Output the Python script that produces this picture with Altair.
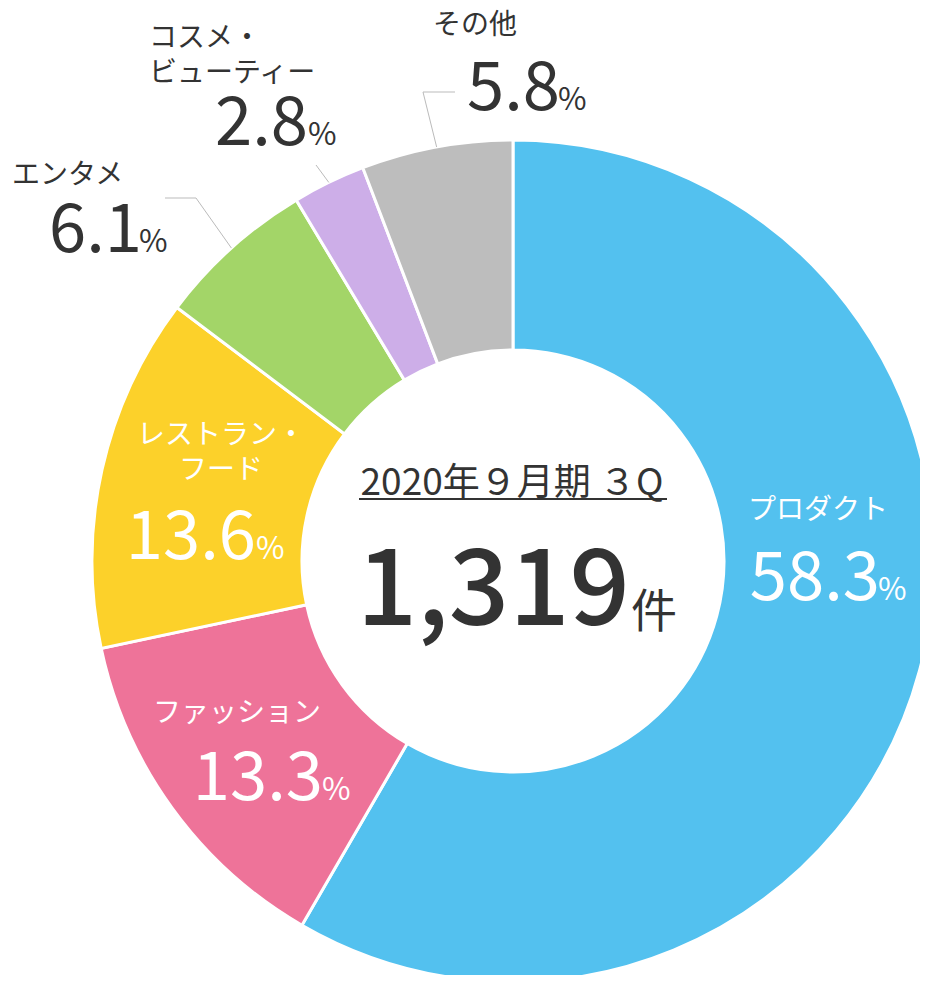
import math
import altair as alt
import pandas as pd

# ---------------- data ----------------
categories = ["プロダクト", "ファッション", "レストラン・フード", "エンタメ", "コスメ・ビューティー", "その他"]
shares = [58.3, 13.3, 13.6, 6.1, 2.8, 5.8]
slice_colors = ["#53C1EF", "#EE7399", "#FCD12A", "#A3D568", "#CDAEE8", "#BDBDBD"]
label_lines = [["プロダクト"], ["ファッション"], ["レストラン・", "フード"], ["エンタメ"],
               ["コスメ・", "ビューティー"], ["その他"]]
period_label = "2020年９月期 ３Q"
total_count = 1319
count_unit = "件"

# ---------------- layout (pixels inside the view) ----------------
W, H = 912, 967
CX, CY = 505, 553
R_OUT, R_IN = 421, 211
INK = "#333333"
FONT = "Noto Sans CJK JP"
NAME_SIZE = 28
NUM_SIZE = 67
PCT_SIZE = 31
LINE_GAP = 35

LAYOUT = {
    "プロダクト": dict(name=(810, 511), align="center", num=(872, 870, 592), ink="white"),
    "ファッション": dict(name=(229, 714), align="center", num=(315, 314, 792), ink="white"),
    "レストラン・フード": dict(name=(213, 436), align="center", num=(248, 248, 551), ink="white"),
    "エンタメ": dict(name=(4, 176), align="left", num=(134, 131, 244), ink=INK,
                  leader=[(157, 190), (188, 190)]),
    "コスメ・ビューティー": dict(name=(141, 39), align="left", num=(300, 300, 137), ink=INK,
                       leader=[(308, 157)]),
    "その他": dict(name=(425, 26), align="left", num=(552, 550, 102), ink=INK,
                leader=[(447, 84), (415, 84)]),
}

# ---------------- donut ----------------
df = pd.DataFrame({"category": categories, "share": shares, "order": list(range(len(categories)))})
donut = alt.Chart(df).mark_arc(
    innerRadius=R_IN, outerRadius=R_OUT, stroke="white", strokeWidth=3
).encode(
    theta=alt.Theta("share:Q", stack=True),
    order=alt.Order("order:Q"),
    color=alt.Color("category:N", scale=alt.Scale(domain=categories, range=slice_colors), legend=None),
    x=alt.value(CX),
    y=alt.value(CY),
)

# ---------------- leader lines (start at each slice's mid-angle on the rim) ----------------
total = sum(shares)
leader_rows = []
cum = 0.0
for cat, s in zip(categories, shares):
    mid = (cum + s / 2) / total * 2 * math.pi
    cum += s
    lay = LAYOUT[cat]
    if "leader" not in lay:
        continue
    pts = list(lay["leader"]) + [(CX + R_OUT * math.sin(mid), CY - R_OUT * math.cos(mid))]
    for i, (px, py) in enumerate(pts):
        leader_rows.append({"category": cat, "i": i, "x": px, "y": py})

leaders = alt.Chart(pd.DataFrame(leader_rows)).mark_line(color="#BBBBBB", strokeWidth=1).encode(
    x=alt.X("x:Q", scale=None, axis=None),
    y=alt.Y("y:Q", scale=None, axis=None),
    detail="category:N",
    order="i:Q",
)


def text_layer(text, x, y, size, color, align, weight="normal"):
    d = pd.DataFrame({"text": [text], "x": [x], "y": [y]})
    return alt.Chart(d).mark_text(
        font=FONT, fontSize=size, color=color, align=align, baseline="alphabetic", fontWeight=weight
    ).encode(
        x=alt.X("x:Q", scale=None, axis=None),
        y=alt.Y("y:Q", scale=None, axis=None),
        text="text:N",
    )


texts = []
for cat, s, lines in zip(categories, shares, label_lines):
    lay = LAYOUT[cat]
    nx, ny = lay["name"]
    for k, line in enumerate(lines):
        texts.append(text_layer(line, nx, ny + k * LINE_GAP, NAME_SIZE, lay["ink"], lay["align"]))
    num_right, pct_left, base = lay["num"]
    texts.append(text_layer(f"{s:.1f}", num_right, base, NUM_SIZE, lay["ink"], "right"))
    texts.append(text_layer("%", pct_left, base, PCT_SIZE, lay["ink"], "left"))

# centre text
texts.append(text_layer(period_label, 504, 487, 37, INK, "center"))
texts.append(text_layer(f"{total_count:,}", 622, 617, 106, INK, "right", 500))
texts.append(text_layer(count_unit, 623, 619, 46, INK, "left"))

underline = alt.Chart(pd.DataFrame({"x": [351], "x2": [659], "y": [491]})).mark_rule(
    color=INK, strokeWidth=2
).encode(
    x=alt.X("x:Q", scale=None, axis=None),
    x2="x2:Q",
    y=alt.Y("y:Q", scale=None, axis=None),
)

chart = alt.layer(donut, leaders, underline, *texts).properties(
    width=W, height=H, autosize=alt.AutoSizeParams(type="none"), padding=0, background="white"
).configure_view(stroke=None)

chart.save("out.html", embed_options={"renderer": "svg", "actions": False})
